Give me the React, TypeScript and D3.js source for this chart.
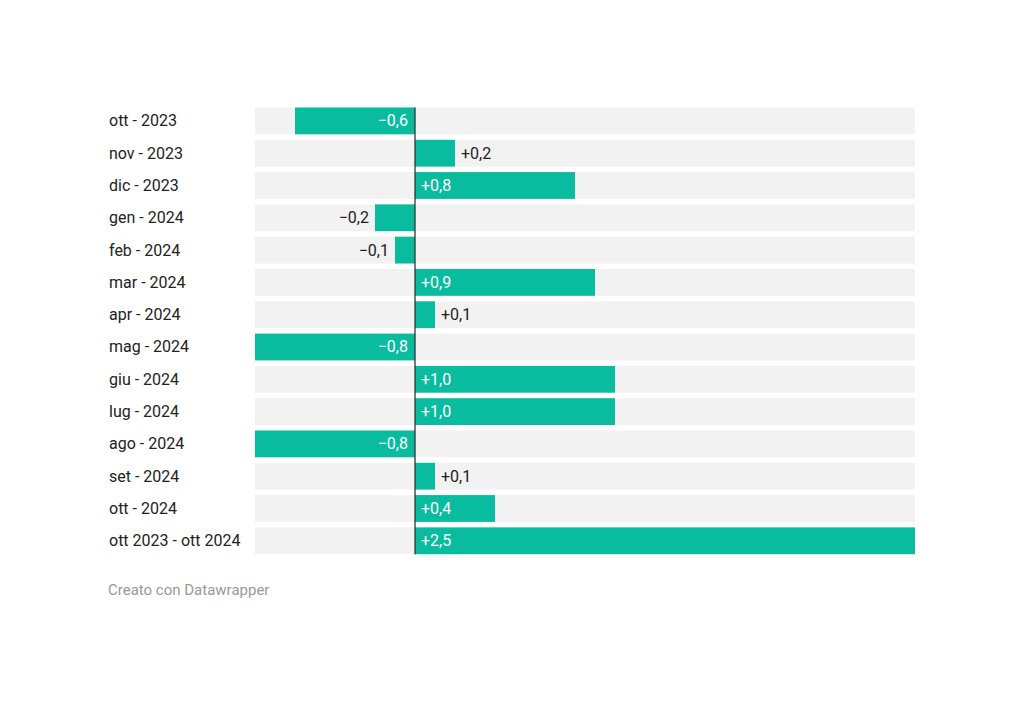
import React from "react";
import * as d3 from "d3";

const categories = [
  "ott - 2023", "nov - 2023", "dic - 2023", "gen - 2024", "feb - 2024", "mar - 2024",
  "apr - 2024", "mag - 2024", "giu - 2024", "lug - 2024", "ago - 2024", "set - 2024",
  "ott - 2024", "ott 2023 - ott 2024",
];
const values = [-0.6, 0.2, 0.8, -0.2, -0.1, 0.9, 0.1, -0.8, 1.0, 1.0, -0.8, 0.1, 0.4, 2.5];
const insideLabel = [true, false, true, false, false, true, false, true, true, true, true, false, true, true];

const fmt = (v: number) => (v < 0 ? "\u2212" : "+") + Math.abs(v).toFixed(1).replace(".", ",");

export default function App() {
  const W = 1024, H = 707;
  const x = d3.scaleLinear().domain([-0.8, 2.5]).range([255, 915]);
  const y = d3.scaleBand().domain(categories).range([107.5, 554.2]).paddingInner(0.17).paddingOuter(0);
  const bh = y.bandwidth();
  const font = "Roboto, sans-serif";
  return (
    <svg width={W} height={H} style={{ position: "absolute", left: 0, top: 0, background: "#fff" }}>
      {categories.map((c, i) => {
        const v = values[i];
        const y0 = y(c)!;
        const x0 = x(Math.min(0, v));
        const x1 = x(Math.max(0, v));
        const cy = y0 + bh / 2 + 5.5;
        let lx: number, anchor: string, col: string;
        if (insideLabel[i]) {
          col = "#fff";
          if (v < 0) { lx = x(0) - 7; anchor = "end"; } else { lx = x(0) + 6; anchor = "start"; }
        } else {
          col = "#222";
          if (v < 0) { lx = x(v) - 6; anchor = "end"; } else { lx = x(v) + 6; anchor = "start"; }
        }
        return (
          <g key={c}>
            <text x={109} y={cy} fontFamily={font} fontSize={16} fill="#222">{c}</text>
            <rect x={x.range()[0]} y={y0} width={x.range()[1] - x.range()[0]} height={bh} fill="#f2f2f2" />
            <rect x={x0} y={y0} width={x1 - x0} height={bh} fill="#09bc9f" />
            <text x={lx} y={cy} textAnchor={anchor} fontFamily={font} fontSize={16} fill={col}>{fmt(v)}</text>
          </g>
        );
      })}
      <line x1={x(0)} x2={x(0)} y1={y(categories[0])!} y2={y(categories[categories.length - 1])! + bh} stroke="#333" strokeWidth={1.3} />
      <text x={108} y={595} fontFamily={font} fontSize={15} fill="#999">Creato con Datawrapper</text>
    </svg>
  );
}
